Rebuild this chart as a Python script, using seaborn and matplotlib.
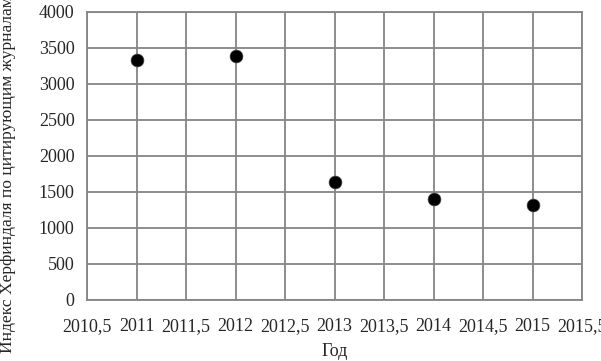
import matplotlib
matplotlib.use("Agg")
import matplotlib.pyplot as plt
import matplotlib.ticker as mticker
import seaborn as sns
import pandas as pd

# ============================
# DATA
# ============================
years = [2011, 2012, 2013, 2014, 2015]
hhi = [3330, 3390, 1645, 1400, 1320]

df = pd.DataFrame({"year": years, "hhi": hhi})

# ============================
# STYLE
# ============================
sns.set_style("white")
plt.rcParams["font.family"] = ["Liberation Serif", "DejaVu Serif"]
plt.rcParams["font.size"] = 13

grid_color = "#858585"

fig = plt.figure(figsize=(6.01, 3.61), dpi=100)
ax = fig.add_axes([0.1448, 0.169, 0.8236, 0.798])

sns.scatterplot(data=df, x="year", y="hhi", ax=ax, color="black",
                s=85, edgecolor="#444444", linewidth=0.5, zorder=3)

ax.set_xlim(2010.5, 2015.5)
ax.set_ylim(0, 4000)
ax.xaxis.set_major_locator(mticker.MultipleLocator(0.5))
ax.yaxis.set_major_locator(mticker.MultipleLocator(500))


def fmt_x(v, pos):
    if abs(v - round(v)) < 1e-6:
        return f"{int(round(v))}"
    return f"{v:.1f}".replace(".", ",")


ax.xaxis.set_major_formatter(mticker.FuncFormatter(fmt_x))
ax.yaxis.set_major_formatter(mticker.FuncFormatter(lambda v, p: f"{int(v)}"))

ax.grid(True, color=grid_color, linewidth=1.3)
ax.set_axisbelow(True)
for sp in ax.spines.values():
    sp.set_color(grid_color)
    sp.set_linewidth(1.3)

ax.tick_params(axis="both", which="major", direction="out", length=4,
               width=1.3, color=grid_color, labelsize=13)
ax.tick_params(axis="y", pad=5)
ax.tick_params(axis="x", pad=9)

ax.set_xlabel("Год", fontsize=13, labelpad=6)
ax.set_ylabel("Индекс Херфиндаля по цитирующим журналам", fontsize=12.6)
ax.yaxis.set_label_coords(-0.143, 0.435)

fig.savefig("out.png", dpi=100)
